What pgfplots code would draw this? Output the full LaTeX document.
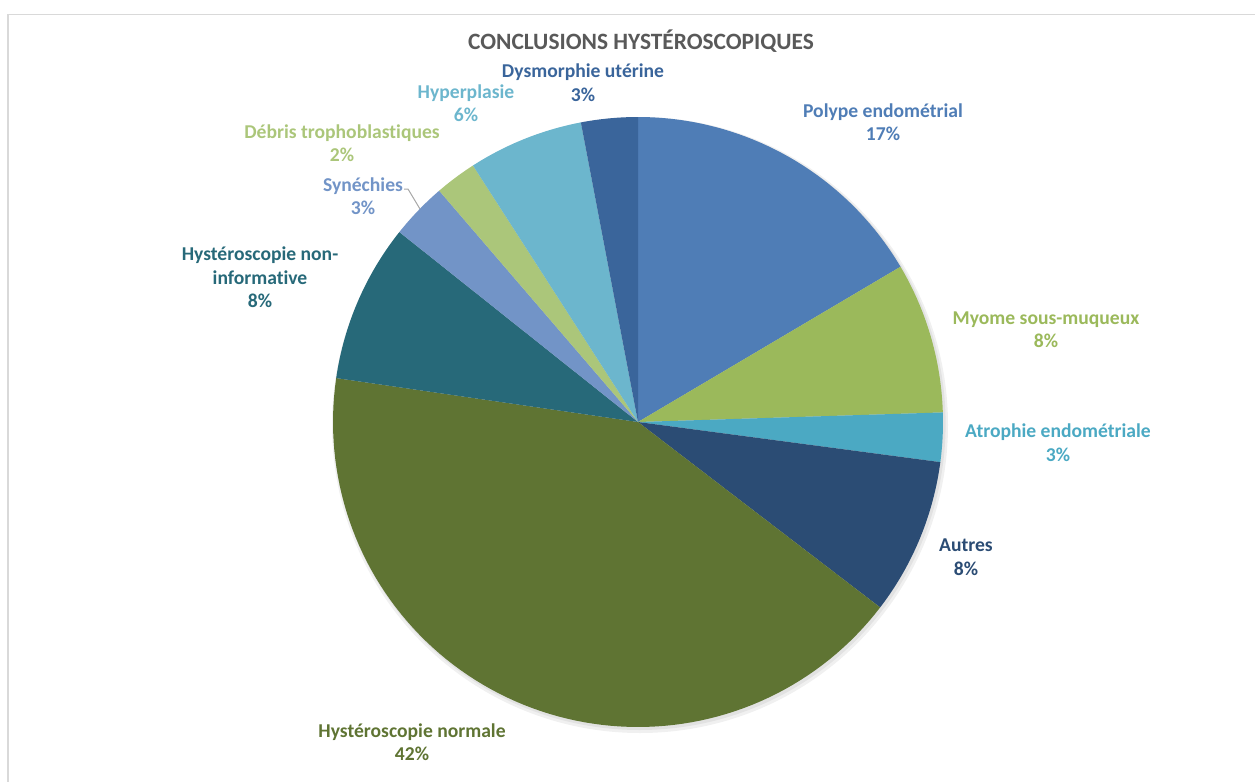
\documentclass[border=0pt]{standalone}
\usepackage{pgfplots}
\usepackage{pgfplotstable}
\pgfplotsset{compat=1.18}
\usepackage{fontspec}
\setmainfont{Carlito}[Ligatures=NoCommon]

\definecolor{slice0}{HTML}{4F7DB6}
\definecolor{slice1}{HTML}{9BB95B}
\definecolor{slice2}{HTML}{4BA9C3}
\definecolor{slice3}{HTML}{2B4C74}
\definecolor{slice4}{HTML}{5F7433}
\definecolor{slice5}{HTML}{276979}
\definecolor{slice6}{HTML}{7294C7}
\definecolor{slice7}{HTML}{ABC67A}
\definecolor{slice8}{HTML}{6CB6CD}
\definecolor{slice9}{HTML}{3A659B}
\definecolor{titlegray}{HTML}{595959}
\definecolor{bordergray}{HTML}{D9D9D9}
\definecolor{leadergray}{HTML}{A6A6A6}

\pgfplotstableread[col sep=comma]{
label,value
Polype endometrial,16.5
Myome sous-muqueux,8.0
Atrophie endometriale,2.6
Autres,8.3
Hysteroscopie normale,41.9
Hysteroscopie non-informative,8.4
Synechies,3.0
Debris trophoblastiques,2.2
Hyperplasie,6.1
Dysmorphie uterine,3.0
}\piedata

\begin{document}
\begin{tikzpicture}
\useasboundingbox (0,0) rectangle (627.5pt,-391pt);
% chart border
\draw[bordergray, line width=0.6pt] (4pt,-391pt) -- (4pt,-7.2pt) -- (627.5pt,-7.2pt);
% soft shadow
\fill[black, opacity=0.06] (320pt,-212.5pt) circle[radius=154pt];
\fill[black, opacity=0.06] (319.8pt,-212pt) circle[radius=153pt];
\begin{axis}[
  anchor=center, at={(319pt,-211pt)},
  x=152.5pt, y=152.5pt,
  xmin=-1.1, xmax=1.1, ymin=-1.1, ymax=1.1,
  hide axis, clip=false,
]
\def\cum{0}
\pgfplotsforeachungrouped \i in {0,...,9}{
  \pgfplotstablegetelem{\i}{value}\of\piedata
  \pgfmathsetmacro\angA{90-3.6*\cum}
  \pgfmathsetmacro\cumnew{\cum+\pgfplotsretval}
  \pgfmathsetmacro\angB{90-3.6*\cumnew}
  \global\let\cum\cumnew
  \edef\temp{\noexpand\addplot[draw=none, fill=slice\i, domain=\angB:\angA, samples=90, variable=\noexpand\t] ({cos(\noexpand\t)},{sin(\noexpand\t)}) -- (axis cs:0,0) -- cycle;}
  \temp
}
\end{axis}
\begin{scope}[x=0.5pt, y=-0.5pt]
\node[font=\fontsize{11.7}{14}\selectfont\bfseries, text=titlegray] at (641,41) {CONCLUSIONS HYSTÉROSCOPIQUES};
\tikzset{lab/.style={align=center, font=\fontsize{9.8}{11.75}\selectfont\bfseries, inner sep=0pt}}
\node[lab, text=slice0] at (883,122) {Polype endométrial\\17\%};
\node[lab, text=slice1] at (1046,329.5) {Myome sous-muqueux\\8\%};
\node[lab, text=slice2] at (1058,442.5) {Atrophie endométriale\\3\%};
\node[lab, text=slice3] at (966,557) {Autres\\8\%};
\node[lab, text=slice4] at (412,742) {Hystéroscopie normale\\42\%};
\node[lab, text=slice5] at (260,277.5) {Hystéroscopie non-\\informative\\8\%};
\node[lab, text=slice6] at (363,196) {Synéchies\\3\%};
\node[lab, text=slice7] at (342,143) {Débris trophoblastiques\\2\%};
\node[lab, text=slice8] at (466,103) {Hyperplasie\\6\%};
\node[lab, text=slice9] at (583,82.5) {Dysmorphie utérine\\3\%};
\draw[leadergray, line width=0.5pt] (404,189) -- (408,189) -- (420,209);
\end{scope}
\end{tikzpicture}
\end{document}
